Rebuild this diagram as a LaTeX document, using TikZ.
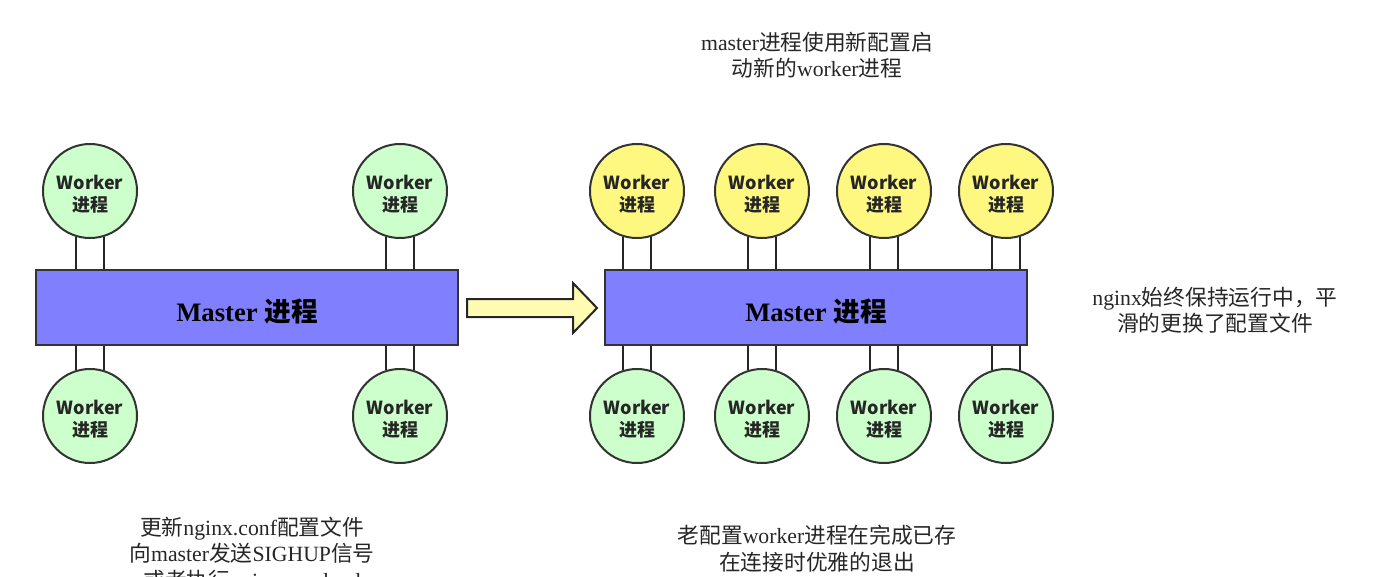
\documentclass[tikz,border=0pt]{standalone}
\usepackage{fontspec}
\setmainfont{Liberation Serif}
\newfontfamily\cjk{Noto Sans CJK SC}
\newcommand{\wtext}{\raisebox{-2.25pt}[\height][\depth]{\shortstack{Worker\\[1.5pt]进程}}}
\newcommand{\mtext}{\raisebox{-3pt}[\height][\depth]{Master {\cjk 进程}}}
\begin{document}
\begin{tikzpicture}[x=0.75pt,y=-0.75pt,
  worker/.style={circle,draw=black!80,line width=1.5pt,minimum size=70.5pt,inner sep=0pt,
    align=center,font=\cjk\bfseries\fontsize{13.5}{16}\selectfont,text=black!85},
  wgreen/.style={worker,fill=green!20},
  wyellow/.style={worker,fill=yellow!50},
  master/.style={rectangle,draw=black!80,line width=1.5pt,fill=blue!50!white,minimum width=316.5pt,minimum height=56.25pt,
    font=\bfseries\fontsize{20}{24}\selectfont},
  link/.style={draw=black!85,line width=1.5pt},
  note/.style={align=center,font=\fontsize{16.3}{19.8}\selectfont,text=black!85,inner sep=0pt}]
\useasboundingbox (0,0) rectangle (1382,576);
\clip (0,0) rectangle (1382,576);
% masters
\node[master] (m1) at (247,307.5) {\mtext};
\node[master] (m2) at (816,307.5) {\mtext};
% workers
\node[wgreen] (a1) at (90,191) {\wtext};
\node[wgreen] (a2) at (400,191) {\wtext};
\node[wgreen] (a3) at (90,416) {\wtext};
\node[wgreen] (a4) at (400,416) {\wtext};
\node[wyellow] (b1) at (637,191) {\wtext};
\node[wyellow] (b2) at (762,191) {\wtext};
\node[wyellow] (b3) at (884,191) {\wtext};
\node[wyellow] (b4) at (1006,191) {\wtext};
\node[wgreen] (c1) at (637,416) {\wtext};
\node[wgreen] (c2) at (762,416) {\wtext};
\node[wgreen] (c3) at (884,416) {\wtext};
\node[wgreen] (c4) at (1006,416) {\wtext};
% links
\foreach \w/\m in {a1/m1,a2/m1,b1/m2,b2/m2,b3/m2,b4/m2}{
  \draw[link] (\w.253) -- (\w.253 |- \m.north);
  \draw[link] (\w.287) -- (\w.287 |- \m.north);
}
\foreach \w/\m in {a3/m1,a4/m1,c1/m2,c2/m2,c3/m2,c4/m2}{
  \draw[link] (\w.107) -- (\w.107 |- \m.south);
  \draw[link] (\w.73) -- (\w.73 |- \m.south);
}
% block arrow
\draw[draw=black!85,line width=1.5pt,fill=yellow!30,line join=miter]
  (467,299) -- (573,299) -- (573,283) -- (597,308) -- (573,333) -- (573,317) -- (467,317) -- cycle;
% notes
\node[note] (t1) at (817,55) {master{\cjk 进程使用新配置启}\\{\cjk 动新的}worker{\cjk 进程}};
\node[note] (t2) at (1215,310.5) {nginx{\cjk 始终保持运行中，平}\\{\cjk 滑的更换了配置文件}};
\node[note] (t3) at (252,555) {{\cjk 更新}nginx.conf{\cjk 配置文件}\\{\cjk 向}master{\cjk 发送}SIGHUP{\cjk 信号}\\{\cjk 或者执行}nginx -s reload};
\node[note] (t4) at (817,548.5) {{\cjk 老配置}worker{\cjk 进程在完成已存}\\{\cjk 在连接时优雅的退出}};
\end{tikzpicture}
\end{document}
